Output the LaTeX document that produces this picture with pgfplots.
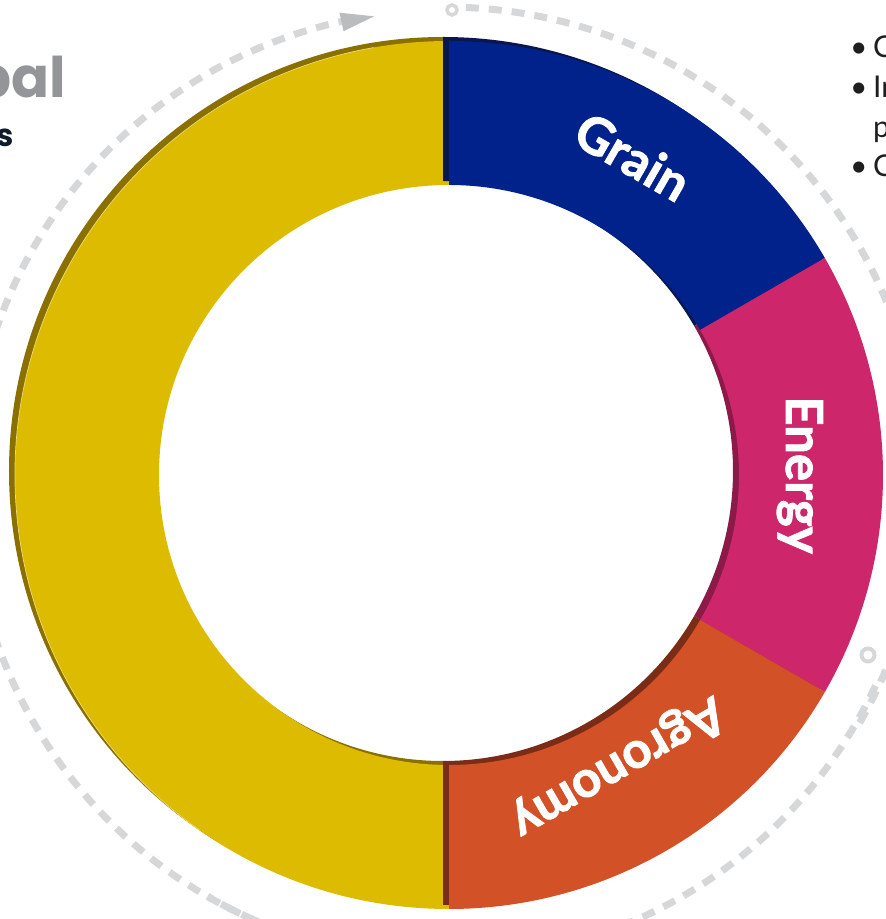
\documentclass[border=0pt]{standalone}
\usepackage{pgfplots}
\pgfplotsset{compat=1.18}
\usepackage{pgfplotstable}
\usepackage{fontspec}
\setmainfont{Lato}
\newfontfamily\labfont{Lato}[BoldFeatures={FakeBold=1.6}]
\newfontfamily\titlefont{Poppins}
\definecolor{cGrain}{HTML}{00228A}
\definecolor{cEnergy}{HTML}{CE266B}
\definecolor{cAgro}{HTML}{D35126}
\definecolor{cOther}{HTML}{DDBB00}
\definecolor{dGrain}{HTML}{0A1650}
\definecolor{dEnergy}{HTML}{8B1A48}
\definecolor{dAgro}{HTML}{7B2C16}
\definecolor{dOther}{HTML}{8A7000}
\definecolor{ringc}{HTML}{D6D7D8}
\definecolor{arrowc}{HTML}{BBBCBE}
\definecolor{titlegray}{HTML}{939598}
\definecolor{titlenavy}{HTML}{0D1B2A}
\definecolor{bullettext}{HTML}{1E1E1E}

\pgfplotstableread{
label value
Grain 1
Energy 1
Agronomy 1
Other 3
}\donutdata

\pgfplotstablegetelem{0}{value}\of\donutdata \pgfmathsetmacro\vA{\pgfplotsretval}
\pgfplotstablegetelem{1}{value}\of\donutdata \pgfmathsetmacro\vB{\pgfplotsretval}
\pgfplotstablegetelem{2}{value}\of\donutdata \pgfmathsetmacro\vC{\pgfplotsretval}
\pgfplotstablegetelem{3}{value}\of\donutdata \pgfmathsetmacro\vD{\pgfplotsretval}
\pgfmathsetmacro\tot{\vA+\vB+\vC+\vD}
\pgfmathsetmacro\angA{90}
\pgfmathsetmacro\angB{\angA-360*\vA/\tot}
\pgfmathsetmacro\angC{\angB-360*\vB/\tot}
\pgfmathsetmacro\angD{\angC-360*\vC/\tot}
\pgfmathsetmacro\angE{\angD-360*\vD/\tot}
\pgfmathsetmacro\midA{(\angA+\angB)/2}
\pgfmathsetmacro\midB{(\angB+\angC)/2}
\pgfmathsetmacro\midC{(\angC+\angD)/2}

\def\cx{449}
\def\cy{444}
\def\Ro{434}
\def\Ri{290}
\def\sx{-6}
\def\sy{4}

% sector path: #1 dx, #2 dy, #3 start angle, #4 end angle
\newcommand{\sector}[4]{(axis cs:{\cx+#1+\Ro*cos(#3)},{\cy+#2+\Ro*sin(#3)}) arc[start angle=#3, end angle=#4, radius=\Ro pt] -- (axis cs:{\cx+#1+\Ri*cos(#4)},{\cy+#2+\Ri*sin(#4)}) arc[start angle=#4, end angle=#3, radius=\Ri pt] -- cycle}

\begin{document}
\begin{tikzpicture}
\useasboundingbox (0,0) rectangle (886pt,919pt);
\clip (0,0) rectangle (886pt,919pt);
\begin{axis}[
  x=1pt, y=1pt,
  xmin=0, xmax=886, ymin=0, ymax=919,
  at={(0,0)}, anchor=south west,
  hide axis, clip=false,
]
% dashed cycle ring
\draw[ringc, line width=7pt, dash pattern=on 13pt off 10pt]
  (axis cs:{445+475*cos(250)},{434+475*sin(250)}) arc[start angle=250, end angle=101.8, radius=475pt];
\fill[arrowc] (axis cs:{445+474*cos(98.6)},{434+474*sin(98.6)})
  -- (axis cs:{445+484*cos(102.6)},{434+484*sin(102.6)})
  -- (axis cs:{445+465*cos(102.6)},{434+465*sin(102.6)}) -- cycle;
\draw[ringc, line width=7pt, dash pattern=on 13pt off 10pt]
  (axis cs:{445+478*cos(87.5)},{434+478*sin(87.5)}) arc[start angle=87.5, end angle=-30, radius=478pt];
\draw[ringc, line width=7pt, dash pattern=on 13pt off 10pt]
  (axis cs:{445+475*cos(-25)},{434+475*sin(-25)}) arc[start angle=-25, end angle=-120, radius=475pt];
\draw[ringc, line width=3.5pt, fill=white] (axis cs:452,909) circle[radius=5pt];
\draw[ringc, line width=4pt, fill=white] (axis cs:868,264) circle[radius=6.5pt];

% donut: the large segment with its extrusion
\fill[dOther] \sector{\sx}{\sy}{\angD}{\angE};
\fill[cOther] \sector{0}{0}{\angD}{\angE};
\draw[cOther!55!white, line width=0.7pt] (axis cs:{\cx+\Ro*cos(100)},{\cy+\Ro*sin(100)}) arc[start angle=100, end angle=235, radius=\Ro pt];
% extrusions of the other segments
\fill[dGrain] \sector{\sx}{\sy}{\angA}{\angB};
\fill[dEnergy] \sector{\sx}{\sy}{\angB}{\angC};
\fill[dAgro] \sector{\sx}{\sy}{\angC}{\angD};
% faces
\fill[cGrain] \sector{0}{0}{\angA}{\angB};
\fill[cEnergy] \sector{0}{0}{\angB}{\angC};
\fill[cAgro] \sector{0}{0}{\angC}{\angD};

% labels
\node[white, font=\labfont\fontsize{51}{60}\selectfont\bfseries, rotate=\midA-90, anchor=base]
  at (axis cs:{\cx+349*cos(\midA)},{\cy+349*sin(\midA)}) {Grain};
\node[white, font=\labfont\fontsize{51}{60}\selectfont\bfseries, rotate=\midB-90, anchor=base]
  at (axis cs:{\cx+337*cos(\midB)},{\cy+337*sin(\midB)}) {Energy};
\node[white, font=\labfont\fontsize{51}{60}\selectfont\bfseries, rotate=\midC-90, anchor=base]
  at (axis cs:{\cx+323*cos(\midC)},{\cy+323*sin(\midC)}) {Agronomy};

% title (cropped at the left edge)
\node[titlegray, font=\titlefont\fontsize{56}{60}\selectfont\bfseries, anchor=base east, inner sep=0pt]
  at (axis cs:66,821) {Global};
\node[titlenavy, font=\titlefont\fontsize{31}{36}\selectfont\bfseries, anchor=base east, inner sep=0pt]
  at (axis cs:14,772) {Operations};

% bullet list (cropped at the right edge)
\node[bullettext, font=\fontsize{30}{36}\selectfont, anchor=base west, inner sep=0pt] at (axis cs:850,861) {\textbullet};
\node[bullettext, font=\fontsize{30}{36}\selectfont, anchor=base west, inner sep=0pt] at (axis cs:873,861) {Commodities};
\node[bullettext, font=\fontsize{30}{36}\selectfont, anchor=base west, inner sep=0pt] at (axis cs:850,821) {\textbullet};
\node[bullettext, font=\fontsize{30}{36}\selectfont, anchor=base west, inner sep=0pt] at (axis cs:873,821) {Integrated};
\node[bullettext, font=\fontsize{30}{36}\selectfont, anchor=base west, inner sep=0pt] at (axis cs:873,781) {processing};
\node[bullettext, font=\fontsize{30}{36}\selectfont, anchor=base west, inner sep=0pt] at (axis cs:850,742) {\textbullet};
\node[bullettext, font=\fontsize{30}{36}\selectfont, anchor=base west, inner sep=0pt] at (axis cs:873,742) {Consulting};
\end{axis}
\end{tikzpicture}
\end{document}
